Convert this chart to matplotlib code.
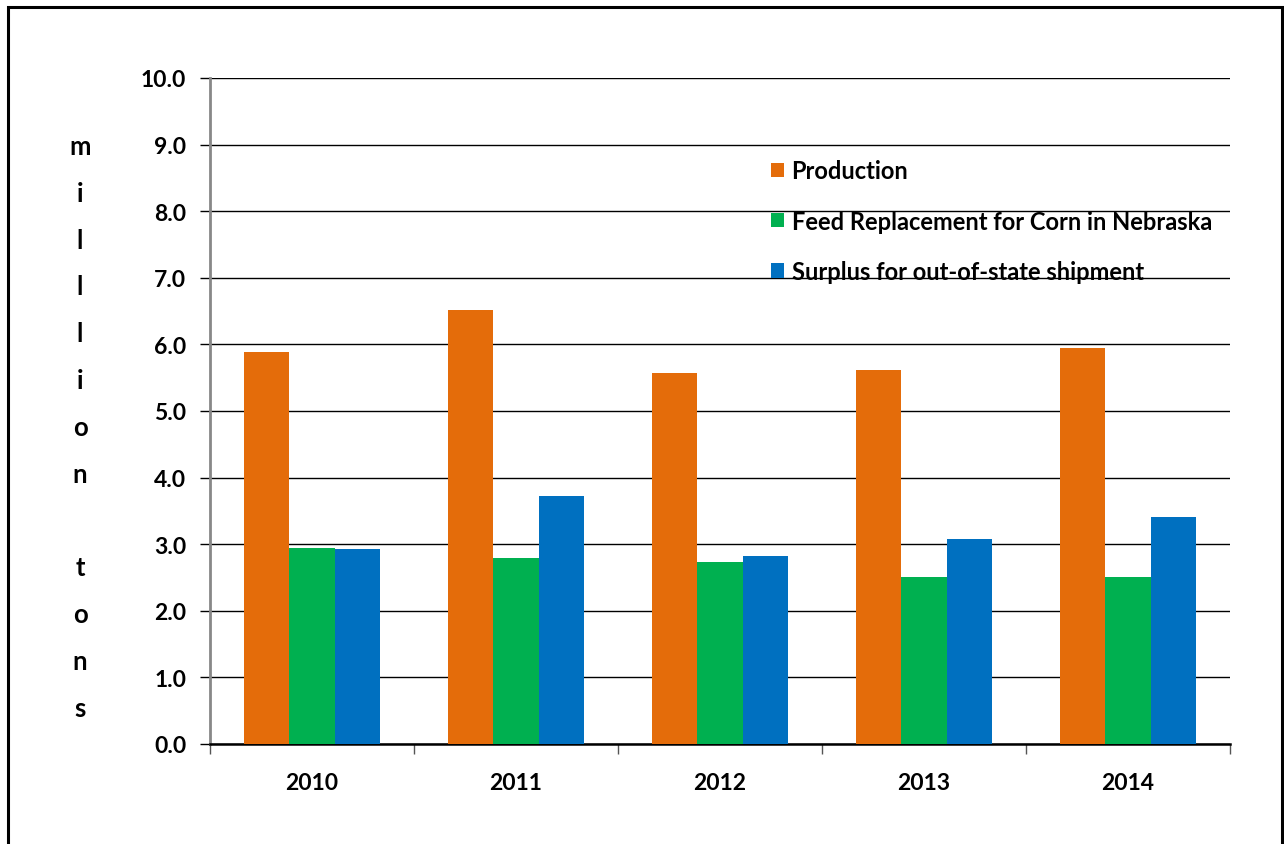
import matplotlib
matplotlib.use("Agg")
import matplotlib.pyplot as plt
import matplotlib.patches as mpatches
import numpy as np

years = ["2010", "2011", "2012", "2013", "2014"]
production = [5.89, 6.52, 5.57, 5.62, 5.95]
feed_replacement = [2.95, 2.79, 2.73, 2.51, 2.51]
surplus = [2.93, 3.72, 2.82, 3.08, 3.41]
series_names = ["Production", "Feed Replacement for Corn in Nebraska",
                "Surplus for out-of-state shipment"]
colors = ["#E46C0A", "#00B050", "#0070C0"]
ylabel_letters = ["m", "i", "l", "l", "l", "i", "o", "n", "", "t", "o", "n", "s"]

plt.rcParams['font.family'] = ['Lato', 'DejaVu Sans']
plt.rcParams['font.weight'] = 'bold'

W, H = 1284, 845
fig = plt.figure(figsize=(W / 100, H / 100), dpi=100)
fig.patch.set_facecolor("white")

# outer frame
frame = mpatches.Rectangle((8 / W, -0.05), (1282 - 8) / W, 1.05 - 8 / H,
                           transform=fig.transFigure, fill=False,
                           edgecolor="black", linewidth=2.2, zorder=0)
fig.add_artist(frame)

ax = fig.add_axes([210 / W, 100 / H, (1230 - 210) / W, 666 / H])

x = np.arange(len(years))
bw = 0.223
data = [production, feed_replacement, surplus]
for i, (vals, name, c) in enumerate(zip(data, series_names, colors)):
    ax.bar(x + (i - 1) * bw, vals, width=bw, color=c, label=name, zorder=3)

ax.set_xlim(-0.5, len(years) - 0.5)
ax.set_ylim(0, 10)
ax.set_yticks(np.arange(0, 10.01, 1.0))
ax.set_yticklabels([f"{v:.1f}" for v in np.arange(0, 10.01, 1.0)])
ax.yaxis.grid(True, color="black", linewidth=1.0, zorder=0)
ax.set_axisbelow(True)

ax.set_xticks(x)
ax.set_xticklabels(years)
ax.set_xticks(np.arange(-0.5, len(years), 1.0), minor=True)
ax.tick_params(axis="x", which="major", length=0, pad=20, labelsize=16.5)
ax.tick_params(axis="x", which="minor", length=7, width=1.0, color="#555555", direction="out")
ax.tick_params(axis="y", which="major", length=7, width=1.0, color="black", pad=10, labelsize=16.5)

for s in ["top", "right"]:
    ax.spines[s].set_visible(False)
ax.spines["left"].set_color("#888888")
ax.spines["left"].set_linewidth(2)
ax.spines["bottom"].set_color("black")
ax.spines["bottom"].set_linewidth(1.8)

for lab in ax.get_xticklabels() + ax.get_yticklabels():
    lab.set_fontweight("bold")

# stacked vertical y label
top_y, step = 147, 46.8
for k, ch in enumerate(ylabel_letters):
    if ch:
        fig.text(80 / W, 1 - (top_y + k * step) / H, ch, ha="center", va="center",
                 fontsize=18.5, fontweight="bold")

leg = ax.legend(loc="upper left", bbox_to_anchor=((762 - 210) / (1230 - 210), (745 - 151) / 666),
                frameon=False, fontsize=17, handlelength=0.55, handleheight=0.55,
                handletextpad=0.3, labelspacing=1.15, borderaxespad=0)
for t in leg.get_texts():
    t.set_fontweight("bold")

fig.savefig("out.png", dpi=100)
